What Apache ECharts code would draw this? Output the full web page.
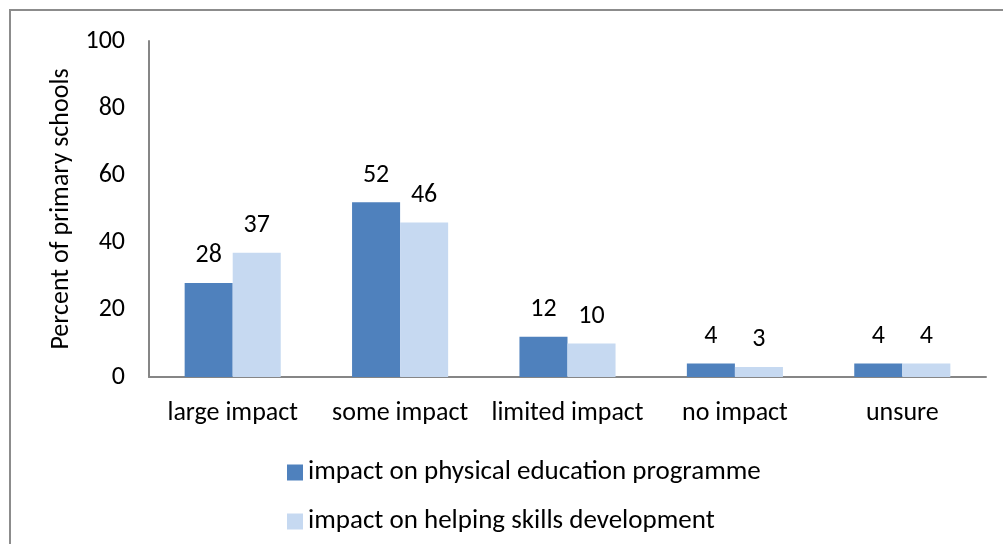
<!DOCTYPE html>
<html>
<head>
<meta charset="utf-8">
<script src="https://cdn.jsdelivr.net/npm/echarts@6/dist/echarts.min.js"></script>
<style>
  html, body { margin: 0; padding: 0; background: #fff; }
  #chart { width: 1003px; height: 544px; }
</style>
</head>
<body>
<div id="chart"></div>
<script>
// Share of primary schools reporting each level of impact
const categories = ['large impact', 'some impact', 'limited impact', 'no impact', 'unsure'];
const physicalEducation = [28, 52, 12, 4, 4];
const skillsDevelopment = [37, 46, 10, 3, 4];
const seriesNames = ['impact on physical education programme', 'impact on helping skills development'];
const yTicks = { min: 0, max: 100, interval: 20 };

const FONT = 'Carlito, Lato, sans-serif';
const FONT_SIZE = 26;
const AXIS_GREY = '#868686';

const chart = echarts.init(document.getElementById('chart'), null, { renderer: 'canvas' });

const labelStyle = {
  show: true,
  position: 'top',
  distance: 14,
  color: '#000',
  fontFamily: FONT,
  fontSize: FONT_SIZE
};

chart.setOption({
  animation: false,
  backgroundColor: '#fff',
  textStyle: { fontFamily: FONT },
  // chart-area frame; its right and bottom edges run past the canvas
  graphic: [{
    type: 'rect',
    shape: { x: 10, y: 10, width: 1020, height: 560 },
    style: { fill: 'none', stroke: '#8c8c8c', lineWidth: 2 },
    silent: true,
    z: 100
  }],
  grid: { left: 149, right: 17, top: 41, bottom: 167 },
  legend: {
    orient: 'vertical',
    left: 282,
    top: 454,
    icon: 'rect',
    itemWidth: 16,
    itemHeight: 16,
    itemGap: 22,
    textStyle: { fontFamily: FONT, fontSize: 27, color: '#000' },
    data: seriesNames
  },
  xAxis: {
    type: 'category',
    data: categories,
    axisLine: { show: true, lineStyle: { color: AXIS_GREY, width: 2 } },
    axisTick: { show: false },
    axisLabel: { color: '#000', fontFamily: FONT, fontSize: FONT_SIZE, margin: 23, interval: 0 }
  },
  yAxis: {
    type: 'value',
    min: yTicks.min,
    max: yTicks.max,
    interval: yTicks.interval,
    name: 'Percent of primary schools',
    nameLocation: 'middle',
    nameRotate: 90,
    nameGap: 66,
    nameTextStyle: { color: '#000', fontFamily: FONT, fontSize: FONT_SIZE },
    axisLine: { show: true, lineStyle: { color: AXIS_GREY, width: 2 } },
    axisTick: { show: false },
    splitLine: { show: false },
    axisLabel: { color: '#000', fontFamily: FONT, fontSize: FONT_SIZE, margin: 24 }
  },
  series: [
    {
      name: seriesNames[0],
      type: 'bar',
      data: physicalEducation,
      barGap: '0%',
      barCategoryGap: '42.6%',
      itemStyle: { color: '#4F81BD' },
      label: labelStyle
    },
    {
      name: seriesNames[1],
      type: 'bar',
      data: skillsDevelopment,
      barGap: '0%',
      barCategoryGap: '42.6%',
      itemStyle: { color: '#C6D9F1' },
      label: labelStyle
    }
  ]
});
</script>
</body>
</html>
